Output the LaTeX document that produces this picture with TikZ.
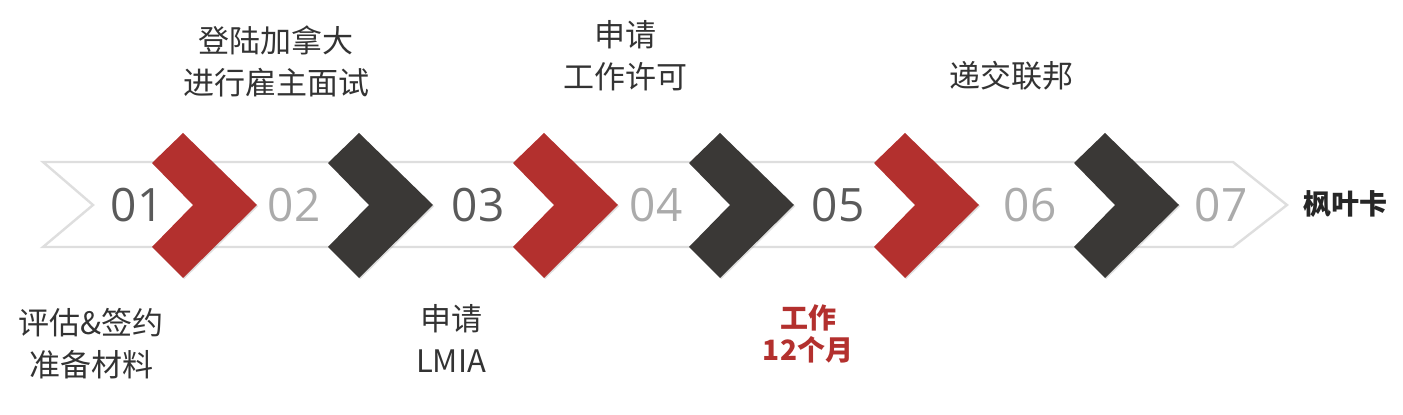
\documentclass[tikz,border=0pt]{standalone}
\usepackage{fontspec}
\setmainfont{Noto Sans CJK SC}
\newfontfamily\numfont{Open Sans}
\usetikzlibrary{shadows}
\definecolor{maple}{HTML}{B3302E}
\definecolor{coal}{HTML}{3A3836}
\definecolor{ink}{HTML}{333333}
\definecolor{numdark}{HTML}{5A5A5A}
\definecolor{numlight}{HTML}{ABABAB}
\tikzset{
  band/.style={fill=white, draw=black!13, line width=1.2pt, line join=miter},
  chev/.style={drop shadow={shadow xshift=0.6pt, shadow yshift=-0.6pt, opacity=0.25}},
  num/.style={font=\numfont\fontsize{23}{23}\selectfont, inner sep=0pt},
  lbl/.style={font=\fontsize{15.5}{21}\selectfont, text=ink, align=center, inner sep=0pt},
  hot/.style={font=\bfseries\fontsize{14}{16}\selectfont, text=maple, align=center, inner sep=0pt},
  goal/.style={font=\bfseries\fontsize{14}{16}\selectfont, text=black!85, inner sep=0pt},
}

\begin{document}
\begin{tikzpicture}[x=0.5pt, y=-0.5pt]
    \useasboundingbox (0,0) rectangle (1403,415);
    % long white arrow
    \draw[band] (43,162) -- (1233,162) -- (1287,205) -- (1233,247) -- (43,247) -- (93,205) -- cycle;
    % step numbers
    \foreach \n/\x/\c in {01/137/numdark, 02/294/numlight, 03/478/numdark, 04/656/numlight,
      05/838/numdark, 06/1030/numlight, 07/1221/numlight}
      \node[num, text=\c] (n\n) at (\x,205) {\n};
    % chevrons
    \foreach \l/\c in {152/maple, 328/coal, 513/maple, 689/coal, 874/maple, 1074/coal}
      \fill[\c, chev] (\l,163) -- ++(31,-30) -- ++(74,72) -- ++(-74,73) -- ++(-31,-31) -- ++(41,-42) -- cycle;
    \node[goal] (card) at (1345,204) {枫叶卡};
    % labels above and below
    \node[lbl] (land) at (276,61) {登陆加拿大\\进行雇主面试};
    \node[lbl] (wp) at (625,56) {申请\\工作许可};
    \node[lbl] (fed) at (1011,76) {递交联邦};
    \node[lbl] (prep) at (91,344) {评估\&签约\\准备材料};
    \node[lbl] (lmia) at (451,338) {申请\\LMIA};
    \node[hot] (work) at (808,334) {工作\\12个月};
\end{tikzpicture}
\end{document}
